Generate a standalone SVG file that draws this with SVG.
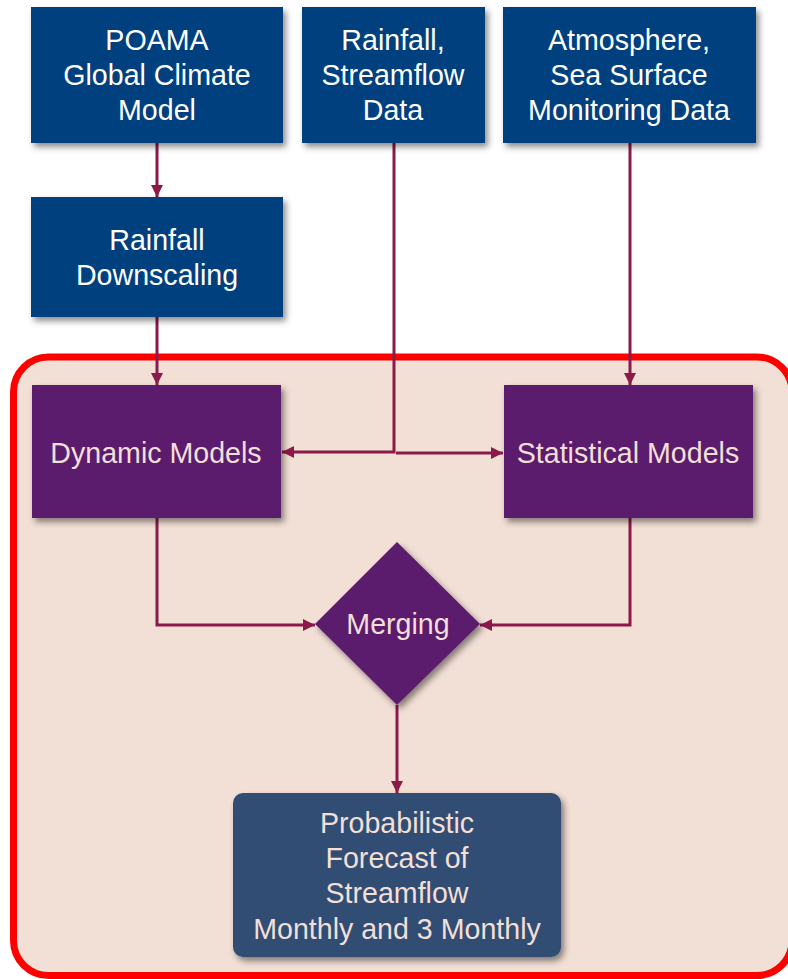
<svg xmlns="http://www.w3.org/2000/svg" width="788" height="979" viewBox="0 0 788 979">
<defs>
<style>
text{font-family:"Liberation Sans",Arial,sans-serif;font-size:28.6px;text-anchor:middle}
.blue{fill:#003F7E}
.purple{fill:#5C1C6E}
.slate{fill:#304D73}
.wt{fill:#FFFFFF}
.pt{fill:#F2DFD7}
.conn{fill:none;stroke:#8B1A4A;stroke-width:3}
</style>
<filter id="sh" x="-10%" y="-10%" width="130%" height="130%">
<feDropShadow dx="3" dy="4" stdDeviation="3" flood-color="#000" flood-opacity="0.45"/>
</filter>
<marker id="ah" viewBox="0 0 10 10" refX="10" refY="5" markerWidth="4.5" markerHeight="4" orient="auto" markerUnits="strokeWidth">
<path d="M0,0 L10,5 L0,10 z" fill="#8B1A4A"/>
</marker>
</defs>
<rect width="788" height="979" fill="#FFFFFF"/>
<g id="container">
<rect x="13.5" y="357" width="778.5" height="618.5" rx="35" fill="#F2DFD6" stroke="#FF0000" stroke-width="7"/>
</g>
<g id="connectors">
<path class="conn" d="M157,143 V197" marker-end="url(#ah)"/>
<path class="conn" d="M157,317 V385" marker-end="url(#ah)"/>
<path class="conn" d="M394,143 V452 H282" marker-end="url(#ah)"/>
<path class="conn" d="M396,453 H503" marker-end="url(#ah)"/>
<path class="conn" d="M630,143 V385" marker-end="url(#ah)"/>
<path class="conn" d="M157,518 V625 H315" marker-end="url(#ah)"/>
<path class="conn" d="M630,518 V625 H480" marker-end="url(#ah)"/>
<path class="conn" d="M397,705 V793" marker-end="url(#ah)"/>
</g>
<g id="poama">
<rect class="blue" x="31" y="7" width="252" height="136" filter="url(#sh)"/>
<text class="wt" x="157" y="50">POAMA</text>
<text class="wt" x="157" y="85">Global Climate</text>
<text class="wt" x="157" y="120">Model</text>
</g>
<g id="rainfall-streamflow">
<rect class="blue" x="302" y="7" width="183" height="136" filter="url(#sh)"/>
<text class="wt" x="393" y="50">Rainfall,</text>
<text class="wt" x="393" y="85">Streamflow</text>
<text class="wt" x="393" y="120">Data</text>
</g>
<g id="atmosphere">
<rect class="blue" x="503" y="7" width="253" height="136" filter="url(#sh)"/>
<text class="wt" x="629" y="50">Atmosphere,</text>
<text class="wt" x="629" y="85">Sea Surface</text>
<text class="wt" x="629" y="120">Monitoring Data</text>
</g>
<g id="downscaling">
<rect class="blue" x="31" y="197" width="252" height="120" filter="url(#sh)"/>
<text class="wt" x="157" y="250">Rainfall</text>
<text class="wt" x="157" y="285">Downscaling</text>
</g>
<g id="dynamic">
<rect class="purple" x="32" y="385" width="249" height="133" filter="url(#sh)"/>
<text class="pt" x="156" y="463">Dynamic Models</text>
</g>
<g id="statistical">
<rect class="purple" x="504" y="385" width="249" height="133" filter="url(#sh)"/>
<text class="pt" x="628" y="463">Statistical Models</text>
</g>
<g id="merging">
<polygon class="purple" points="397,542 480,624 397,705 315,624" filter="url(#sh)"/>
<text class="pt" x="398" y="634">Merging</text>
</g>
<g id="forecast">
<rect class="slate" x="233" y="793" width="328" height="164" rx="10" filter="url(#sh)"/>
<text class="pt" x="397" y="833">Probabilistic</text>
<text class="pt" x="397" y="868">Forecast of</text>
<text class="pt" x="397" y="903">Streamflow</text>
<text class="pt" x="397" y="939">Monthly and 3 Monthly</text>
</g>
</svg>
